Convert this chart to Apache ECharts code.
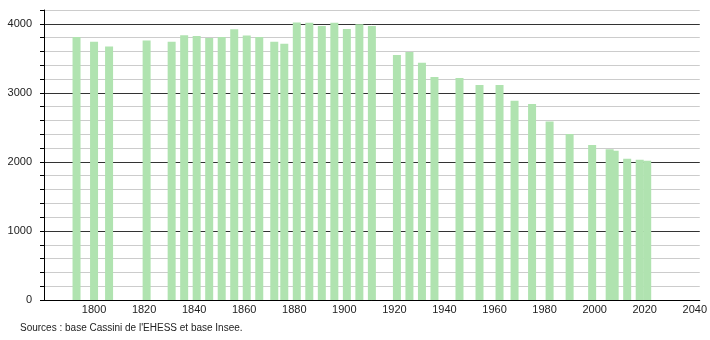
<!DOCTYPE html>
<html>
<head>
<meta charset="utf-8">
<script src="https://cdn.jsdelivr.net/npm/echarts@6/dist/echarts.min.js"></script>
<style>
html,body{margin:0;padding:0;background:#fff;}
#chart{width:710px;height:340px;}
</style>
</head>
<body>
<div id="chart"></div>
<script>
var years = [1793,1800,1806,1821,1831,1836,1841,1846,1851,1856,1861,1866,1872,1876,1881,1886,1891,1896,1901,1906,1911,1921,1926,1931,1936,1946,1954,1962,1968,1975,1982,1990,1999,2006,2008,2013,2018,2021];
var population = [3810,3740,3670,3760,3740,3835,3825,3795,3810,3920,3830,3810,3740,3710,4020,4015,3970,4015,3925,3995,3970,3550,3590,3435,3230,3215,3115,3115,2885,2840,2585,2405,2245,2185,2160,2045,2030,2015];
var yLabelValues = [0,1000,2000,3000,4000];
var xLabelYears = [1800,1820,1840,1860,1880,1900,1920,1940,1960,1980,2000,2020,2040];
var sourceText = "Sources : base Cassini de l'EHESS et base Insee.";

var data = years.map(function(y,i){return [y,population[i]];});
var chart = echarts.init(document.getElementById('chart'), null, {renderer:'canvas'});
chart.setOption({
  animation:false,
  backgroundColor:'#ffffff',
  textStyle:{fontFamily:'Liberation Sans, Arial, sans-serif'},
  grid:{left:44,right:10,top:10,bottom:40,containLabel:false},
  xAxis:{
    type:'value',min:1780,max:2042,interval:20,
    axisLine:{show:true,lineStyle:{color:'#000',width:1}},
    axisTick:{show:false},
    splitLine:{show:false},
    axisLabel:{
      margin:4,fontSize:11,color:'#222',showMaxLabel:false,showMinLabel:false,
      formatter:function(v){return xLabelYears.indexOf(v)>=0?String(v):'';}
    }
  },
  yAxis:{
    type:'value',min:0,max:4200,interval:200,
    axisLine:{show:true,lineStyle:{color:'#000',width:1}},
    axisTick:{show:true,length:4,lineStyle:{color:'#000'}},
    splitLine:{show:true,lineStyle:{color:['#333333','#cccccc','#cccccc','#cccccc','#cccccc'],width:1}},
    axisLabel:{
      margin:12,fontSize:11,color:'#222',
      formatter:function(v){return yLabelValues.indexOf(v)>=0?String(v):'';}
    }
  },
  series:[{
    type:'bar',
    data:data,
    barWidth:8,
    itemStyle:{color:'#b0e3b0'}
  }],
  graphic:[{
    type:'text',left:20,top:323,
    style:{text:sourceText,fontSize:10,fill:'#222',fontFamily:'Liberation Sans, Arial, sans-serif'}
  }]
});
</script>
</body>
</html>
